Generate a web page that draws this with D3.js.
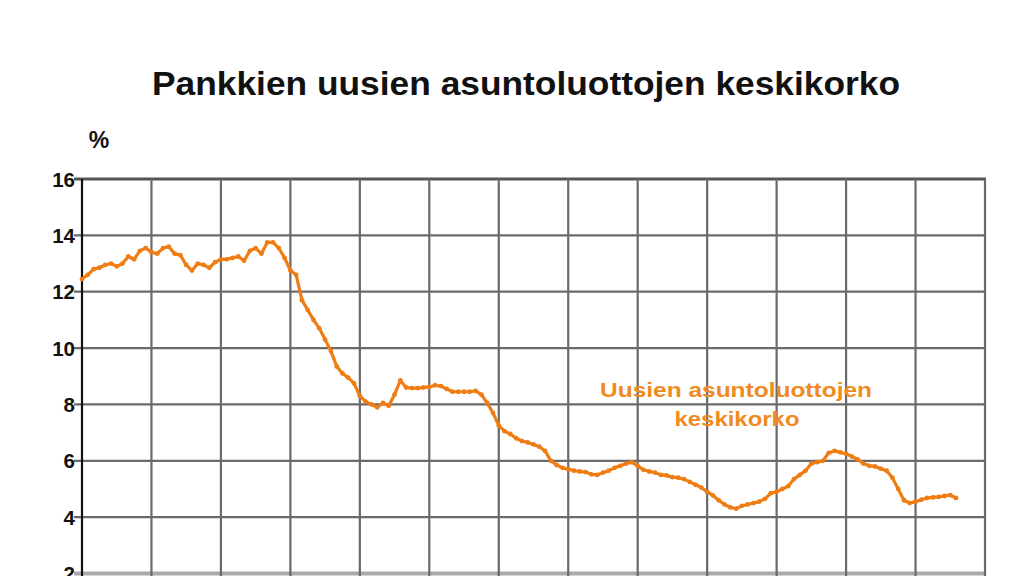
<!DOCTYPE html>
<html><head><meta charset="utf-8">
<script src="https://cdn.jsdelivr.net/npm/d3@7"></script>
<style>html,body{margin:0;padding:0;background:#fff;}svg{display:block;}</style>
</head><body>
<svg id="c" width="1024" height="576"></svg>
<script>
const title = "Pankkien uusien asuntoluottojen keskikorko";
const unitLabel = "%";
const annotationLines = ["Uusien asuntoluottojen", "keskikorko"];
const years = [1990,1991,1992,1993,1994,1995,1996,1997,1998,1999,2000,2001,2002,2003];
const yTicks = [2,4,6,8,10,12,14,16];
const rate = [
12.45,12.6,12.8,12.85,12.95,13.0,12.9,13.0,13.25,13.15,13.45,13.55,
13.4,13.35,13.55,13.6,13.35,13.3,12.95,12.75,13.0,12.95,12.85,13.05,
13.15,13.15,13.2,13.25,13.1,13.45,13.55,13.35,13.75,13.75,13.55,13.2,
12.75,12.6,11.7,11.35,11.0,10.7,10.3,9.9,9.35,9.1,8.95,8.75,
8.3,8.1,8.0,7.9,8.05,7.95,8.35,8.85,8.6,8.58,8.58,8.6,
8.62,8.68,8.65,8.55,8.45,8.45,8.45,8.45,8.48,8.35,8.05,7.7,
7.25,7.05,6.95,6.8,6.7,6.65,6.58,6.5,6.35,6.0,5.85,5.75,
5.7,5.65,5.62,5.6,5.52,5.5,5.58,5.65,5.75,5.82,5.9,5.95,
5.82,5.68,5.62,5.58,5.5,5.48,5.42,5.4,5.35,5.25,5.15,5.05,
4.9,4.77,4.6,4.45,4.35,4.3,4.4,4.45,4.5,4.55,4.65,4.85,
4.9,5.0,5.1,5.35,5.5,5.65,5.9,5.95,6.0,6.28,6.35,6.3,
6.25,6.15,6.05,5.9,5.82,5.8,5.72,5.65,5.4,5.0,4.6,4.5,
4.55,4.62,4.68,4.7,4.72,4.75,4.78,4.68
];

const svg = d3.select("#c");
const x = d3.scaleLinear().domain([0, (years.length - 1) * 12]).range([82, 985]);
const y = d3.scaleLinear().domain([2, 16]).range([573.5, 179]);
const orange = "#ef7d14";
const font = "Liberation Sans, Arial, Helvetica, sans-serif";

// title
svg.append("text").attr("x", 526).attr("y", 95).attr("text-anchor", "middle")
  .attr("font-family", font).attr("font-weight", "bold")
  .attr("font-size", 33).attr("textLength", 748).attr("lengthAdjust", "spacingAndGlyphs")
  .attr("fill", "#111").text(title);

svg.append("text").attr("x", 99).attr("y", 148).attr("text-anchor", "middle")
  .attr("font-family", font).attr("font-weight", "bold")
  .attr("font-size", 23).attr("fill", "#111").text(unitLabel);

// horizontal grid
const g = svg.append("g");
g.selectAll(".hg").data(yTicks).join("line")
  .attr("x1", 74).attr("x2", 986)
  .attr("y1", d => y(d)).attr("y2", d => y(d))
  .attr("stroke", d => d === 2 ? "#aaa" : (d === 16 ? "#555" : "#6a6a6a"))
  .attr("stroke-width", d => d === 2 ? 4 : (d === 16 ? 3 : 2.2));

// vertical grid (year boundaries)
g.selectAll(".vg").data(years.map((yr, i) => i)).join("line")
  .attr("x1", d => x(d * 12)).attr("x2", d => x(d * 12))
  .attr("y1", y(16)).attr("y2", 576)
  .attr("stroke", d => d === 0 ? "#111" : "#6a6a6a")
  .attr("stroke-width", 2.2);

// y tick labels
svg.selectAll(".yl").data(yTicks).join("text")
  .attr("x", 75).attr("y", d => y(d) + 7.5).attr("text-anchor", "end")
  .attr("font-family", font).attr("font-weight", "bold")
  .attr("font-size", 20.5).attr("fill", "#111").text(d => d);

// line
const line = d3.line().x((d, i) => x(i)).y(d => y(d));
svg.append("path").datum(rate).attr("d", line)
  .attr("fill", "none").attr("stroke", orange).attr("stroke-width", 3.2)
  .attr("stroke-linejoin", "round");
svg.selectAll(".pt").data(rate).join("circle")
  .attr("cx", (d, i) => x(i)).attr("cy", d => y(d)).attr("r", 2.4)
  .attr("fill", orange);

// annotation
const ann = svg.append("text").attr("text-anchor", "middle")
  .attr("font-family", font).attr("font-weight", "bold")
  .attr("font-size", 20).attr("fill", "#f08a22");
ann.append("tspan").attr("x", 736).attr("y", 397).attr("textLength", 272)
  .attr("lengthAdjust", "spacingAndGlyphs").text(annotationLines[0]);
ann.append("tspan").attr("x", 737).attr("y", 426).attr("textLength", 125)
  .attr("lengthAdjust", "spacingAndGlyphs").text(annotationLines[1]);
</script>
</body></html>
